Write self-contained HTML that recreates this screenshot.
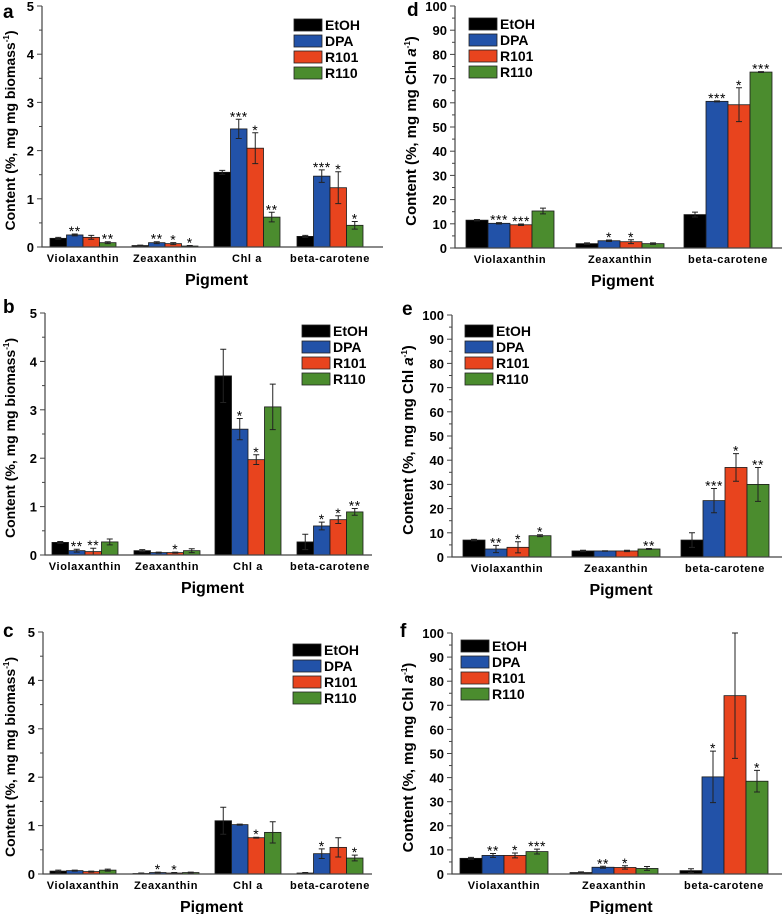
<!DOCTYPE html>
<html><head><meta charset="utf-8"><style>
html,body{margin:0;padding:0;background:#fff;}
svg{display:block;font-family:"Liberation Sans",Arial,sans-serif;font-weight:bold;}
</style></head><body>
<svg id="fig" width="784" height="914" viewBox="0 0 784 914" xmlns="http://www.w3.org/2000/svg"></svg>
<script>
const series = ["EtOH","DPA","R101","R110"];
const colors = ["#000000","#2252a8","#e8441e","#4b8c2e"];
const catsLeft = ["Violaxanthin","Zeaxanthin","Chl a","beta-carotene"];
const catsRight = ["Violaxanthin","Zeaxanthin","beta-carotene"];
// panel a
const aVals = [[0.18,0.25,0.20,0.09],[0.03,0.09,0.07,0.02],[1.55,2.45,2.05,0.62],[0.22,1.47,1.23,0.45]];
const aErr  = [[0.02,0.02,0.04,0.02],[0.01,0.02,0.02,0.01],[0.04,0.20,0.32,0.10],[0.02,0.13,0.33,0.08]];
const aStars= [["","**","","**"],["","**","*","*"],["","***","*","**"],["","***","*","*"]];
// panel b
const bVals = [[0.26,0.09,0.07,0.27],[0.09,0.05,0.05,0.09],[3.70,2.60,1.97,3.06],[0.27,0.60,0.73,0.89]];
const bErr  = [[0.02,0.03,0.07,0.06],[0.02,0.01,0.01,0.04],[0.55,0.22,0.10,0.47],[0.16,0.08,0.08,0.07]];
const bStars= [["","**","**",""],["","","*",""],["","*","*",""],["","*","*","**"]];
// panel c
const cVals = [[0.06,0.07,0.05,0.08],[0.01,0.03,0.02,0.03],[1.10,1.02,0.75,0.86],[0.02,0.42,0.55,0.33]];
const cErr  = [[0.02,0.01,0.01,0.02],[0.01,0.01,0.01,0.01],[0.28,0.01,0.01,0.22],[0.01,0.10,0.20,0.06]];
const cStars= [["","","",""],["","*","*",""],["","","*",""],["","*","","*"]];
// panel d
const dVals = [[11.5,10.2,9.6,15.3],[1.8,3.0,2.6,1.8],[13.8,60.6,59.2,72.7]];
const dErr  = [[0.3,0.3,0.3,1.2],[0.3,0.3,0.8,0.3],[1.0,0.2,7.0,0.2]];
const dStars= [["","***","***",""],["","*","*",""],["","***","*","***"]];
// panel e
const eVals = [[7.0,3.3,4.0,8.8],[2.5,2.5,2.5,3.3],[7.0,23.3,37.0,30.0]];
const eErr  = [[0.3,1.5,2.3,0.4],[0.3,0.1,0.3,0.2],[3.0,5.0,5.7,7.0]];
const eStars= [["","**","*","*"],["","","","**"],["","***","*","**"]];
// panel f
const fVals = [[6.5,7.7,7.7,9.3],[0.6,2.8,2.7,2.3],[1.4,40.3,74.0,38.5]];
const fErr  = [[0.4,0.8,1.0,1.0],[0.3,0.4,0.7,0.8],[0.8,10.7,26.0,4.5]];
const fStars= [["","**","*","***"],["","**","*",""],["","*","","*"]];
const leftTicks = [0,1,2,3,4,5];
const rightTicks = [0,10,20,30,40,50,60,70,80,90,100];

const svg = document.getElementById('fig');
const NS = "http://www.w3.org/2000/svg";
function mk(tag, attrs, parent, text){
  const e = document.createElementNS(NS, tag);
  for (const k in attrs) e.setAttribute(k, attrs[k]);
  if (text !== undefined) e.textContent = text;
  (parent||svg).appendChild(e);
  return e;
}

const panels = [
 {id:"a",vals:aVals,err:aErr,stars:aStars,cats:catsLeft,ticks:leftTicks,max:5,minor:0.5,ax:42,x1:383,top:6,zero:247,centers:[83,165,247,330],bw:16.5,leg:[294,25],ytitle:"left",lx:3,ly:18},
 {id:"b",vals:bVals,err:bErr,stars:bStars,cats:catsLeft,ticks:leftTicks,max:5,minor:0.5,ax:45,x1:372,top:313,zero:555,centers:[85,167,248,330],bw:16.5,leg:[302,331],ytitle:"left",lx:3,ly:313},
 {id:"c",vals:cVals,err:cErr,stars:cStars,cats:catsLeft,ticks:leftTicks,max:5,minor:0.5,ax:43,x1:372,top:632,zero:874,centers:[83,166,248,330],bw:16.5,leg:[293,650],ytitle:"left",lx:3,ly:637},
 {id:"d",vals:dVals,err:dErr,stars:dStars,cats:catsRight,ticks:rightTicks,max:100,minor:5,ax:455,x1:782,top:6,zero:248,centers:[510,620,728],bw:22,leg:[469,24],ytitle:"right",lx:407,ly:16},
 {id:"e",vals:eVals,err:eErr,stars:eStars,cats:catsRight,ticks:rightTicks,max:100,minor:5,ax:452,x1:782,top:315,zero:557,centers:[507,616,725],bw:22,leg:[465,331],ytitle:"right",lx:402,ly:315},
 {id:"f",vals:fVals,err:fErr,stars:fStars,cats:catsRight,ticks:rightTicks,max:100,minor:5,ax:452,x1:782,top:633,zero:874,centers:[504,614,724],bw:22,leg:[461,646],ytitle:"right",lx:400,ly:637}
];

panels.forEach(p=>{
  const g = mk('g',{});
  
  
  const y = v => p.zero - v/p.max*(p.zero-p.top);
  const lt = mk('text',{x:p.lx,y:p.ly,'font-size':19},g,p.id);
  
  
  p.vals.forEach((grp,ci)=>{
    grp.forEach((v,si)=>{
      const bx = p.centers[ci] - 2*p.bw + si*p.bw;
      const r = mk('rect',{x:bx,y:y(v),width:p.bw,height:p.zero-y(v),fill:colors[si],stroke:"#1a1a1a",'stroke-width':0.8},g);
      
      
      const e = p.err[ci][si];
      const cx = bx + p.bw/2;
      const yt = y(v+e), yb = y(Math.max(0,v-e));
      const eb = mk('path',{d:`M${cx},${yt}V${yb}M${cx-3},${yt}H${cx+3}M${cx-3},${yb}H${cx+3}`,stroke:"#222",'stroke-width':1,fill:"none"},g);
      
      
      const s = p.stars[ci][si];
      if (s) {
        const st = mk('text',{x:cx,y:yt+2,'font-size':14,'text-anchor':'middle','font-weight':'normal','letter-spacing':'0.5'},g,s);
        
        
      }
    });
    const cl = mk('text',{x:p.centers[ci],y:p.zero+15,'font-size':11,'text-anchor':'middle','letter-spacing':'0.6'},g,p.cats[ci]);
    
    
  });
  const axl = mk('path',{d:`M${p.ax},${p.top}V${p.zero}H${p.x1}`,stroke:"#444",'stroke-width':1.2,fill:"none"},g);
  
  
  for (let v=0; v<=p.max+1e-9; v+=p.minor){
    const major = p.ticks.some(t=>Math.abs(t-v)<1e-9);
    mk('line',{x1:p.ax-(major?5:3),x2:p.ax,y1:y(v),y2:y(v),stroke:"#444",'stroke-width':1},g);
  }
  p.ticks.forEach(t=>{
    const tl = mk('text',{x:p.ax-8,y:y(t)+5,'font-size':13,'text-anchor':'end'},g,String(t));
    
    
  });
  const ty = (p.top+p.zero)/2 + 4;
  const tx = p.id<'d' ? 15 : p.ax-39;
  const yt = mk('text',{x:tx,y:ty,'font-size':p.id<'d'?14:15,'text-anchor':'middle',transform:`rotate(-90 ${tx} ${ty})`},g);
  
  
  if (p.ytitle==="left"){
    yt.appendChild(document.createTextNode("Content (%, mg mg biomass"));
    mk('tspan',{dy:-6,'font-size':8},yt,"-1");
    mk('tspan',{dy:6},yt,")");
  } else {
    yt.appendChild(document.createTextNode("Content (%, mg mg Chl "));
    mk('tspan',{'font-style':'italic'},yt,"a");
    mk('tspan',{dy:-6,'font-size':8},yt,"-1");
    mk('tspan',{dy:6},yt,")");
  }
  const xt = mk('text',{x:(p.ax+p.x1)/2+4,y:p.zero+38,'font-size':16,'text-anchor':'middle'},g,"Pigment");
  
  
  const lg = mk('g',{},g);
  
  
  series.forEach((s,i)=>{
    const ly = p.leg[1] + i*16;
    const r = mk('rect',{x:p.leg[0],y:ly-6,width:28,height:12,fill:colors[i],stroke:"#222",'stroke-width':0.8},lg);
    
    
    const t = mk('text',{x:p.leg[0]+31,y:ly+5,'font-size':14},lg,s);
    
    
  });
});
</script>
</body></html>
